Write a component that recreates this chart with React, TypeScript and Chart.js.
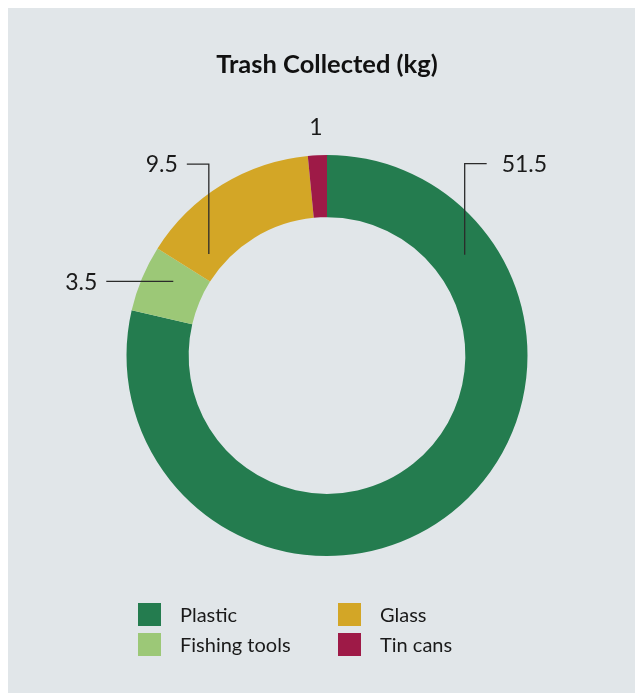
import React, { useEffect, useRef } from "react";
import { Chart, registerables } from "chart.js";

Chart.register(...registerables);

const title = "Trash Collected (kg)";
const categories = ["Plastic", "Fishing tools", "Glass", "Tin cans"];
const values = [51.5, 3.5, 9.5, 1];
const colors = ["#247c4f", "#9cc877", "#d3a626", "#9e1a47"];

// callout styling: where in the slice the leader starts (fraction of slice angle, fraction of ring thickness)
const anchorAngleFrac = [0.19, 0.66, 0.16, 0.5];
const anchorRadiusFrac = [0.52, 0.52, 0.28, 0];
const elbowDy = [-91, 0, -90, 0];
const elbowDx = [22, -67, -22, 0];
const hasLine = [true, true, true, false];

const FONT = "Lato, 'Noto Sans', sans-serif";
const BG = "#e1e6e9";

const calloutPlugin = {
  id: "callouts",
  afterDatasetsDraw(chart: any) {
    const ctx = chart.ctx;
    const meta = chart.getDatasetMeta(0);
    ctx.save();
    ctx.font = `400 23px ${FONT}`;
    ctx.fillStyle = "#1a1a1a";
    ctx.strokeStyle = "#2b2b2b";
    ctx.lineWidth = 1.3;
    meta.data.forEach((el: any, i: number) => {
      const p = el.getProps(["x", "y", "startAngle", "endAngle", "innerRadius", "outerRadius"], true);
      const a = p.startAngle + (p.endAngle - p.startAngle) * anchorAngleFrac[i];
      const label = String(values[i]);
      if (!hasLine[i]) {
        const r = p.outerRadius + 28;
        ctx.textAlign = "center";
        ctx.textBaseline = "middle";
        ctx.fillText(label, p.x + r * Math.cos(a), p.y + r * Math.sin(a));
        return;
      }
      const r = p.innerRadius + (p.outerRadius - p.innerRadius) * anchorRadiusFrac[i];
      const ax = p.x + r * Math.cos(a);
      const ay = p.y + r * Math.sin(a);
      const ey = ay + elbowDy[i];
      const ex = ax + elbowDx[i];
      ctx.beginPath();
      ctx.moveTo(ax, ay);
      ctx.lineTo(ax, ey);
      ctx.lineTo(ex, ey);
      ctx.stroke();
      const right = elbowDx[i] > 0;
      ctx.textAlign = right ? "left" : "right";
      ctx.textBaseline = "middle";
      ctx.fillText(label, ex + (right ? 15 : -9), ey + 1);
    });
    ctx.restore();
  },
};

export default function App() {
  const ref = useRef<HTMLCanvasElement>(null);
  useEffect(() => {
    document.body.style.overflow = "hidden";
    const chart = new Chart(ref.current!, {
      type: "doughnut",
      data: {
        labels: categories,
        datasets: [
          {
            data: values,
            backgroundColor: colors,
            borderWidth: 0,
            hoverOffset: 0,
          },
        ],
      },
      options: {
        animation: false,
        responsive: false,
        maintainAspectRatio: false,
        cutout: "69%",
        layout: { padding: { left: 100, right: 97, top: 147, bottom: 137 } },
        plugins: {
          legend: { display: false },
          title: { display: false },
          tooltip: { enabled: false },
        },
      },
      plugins: [calloutPlugin],
    });
    return () => chart.destroy();
  }, []);

  return (
    <div style={{ position: "relative", width: 635, height: 685, background: BG, fontFamily: FONT }}>
      <canvas ref={ref} width={635} height={685} style={{ position: "absolute", left: 0, top: 0 }} />
      <div
        style={{
          position: "absolute",
          left: 0,
          width: 638,
          top: 40,
          textAlign: "center",
          fontWeight: 700,
          fontSize: 25.5,
          color: "#111",
        }}
      >
        {title}
      </div>
      <div
        style={{
          position: "absolute",
          left: 130,
          top: 591,
          display: "grid",
          gridTemplateRows: "30px 30px",
          gridAutoFlow: "column",
          gridTemplateColumns: "200px 200px",
        }}
      >
        {categories.map((c, i) => (
          <div key={c} style={{ display: "flex", alignItems: "center", height: 30 }}>
            <span style={{ width: 23, height: 23, background: colors[i], display: "inline-block", marginRight: 19 }} />
            <span style={{ fontSize: 20, color: "#1a1a1a" }}>{c}</span>
          </div>
        ))}
      </div>
    </div>
  );
}
